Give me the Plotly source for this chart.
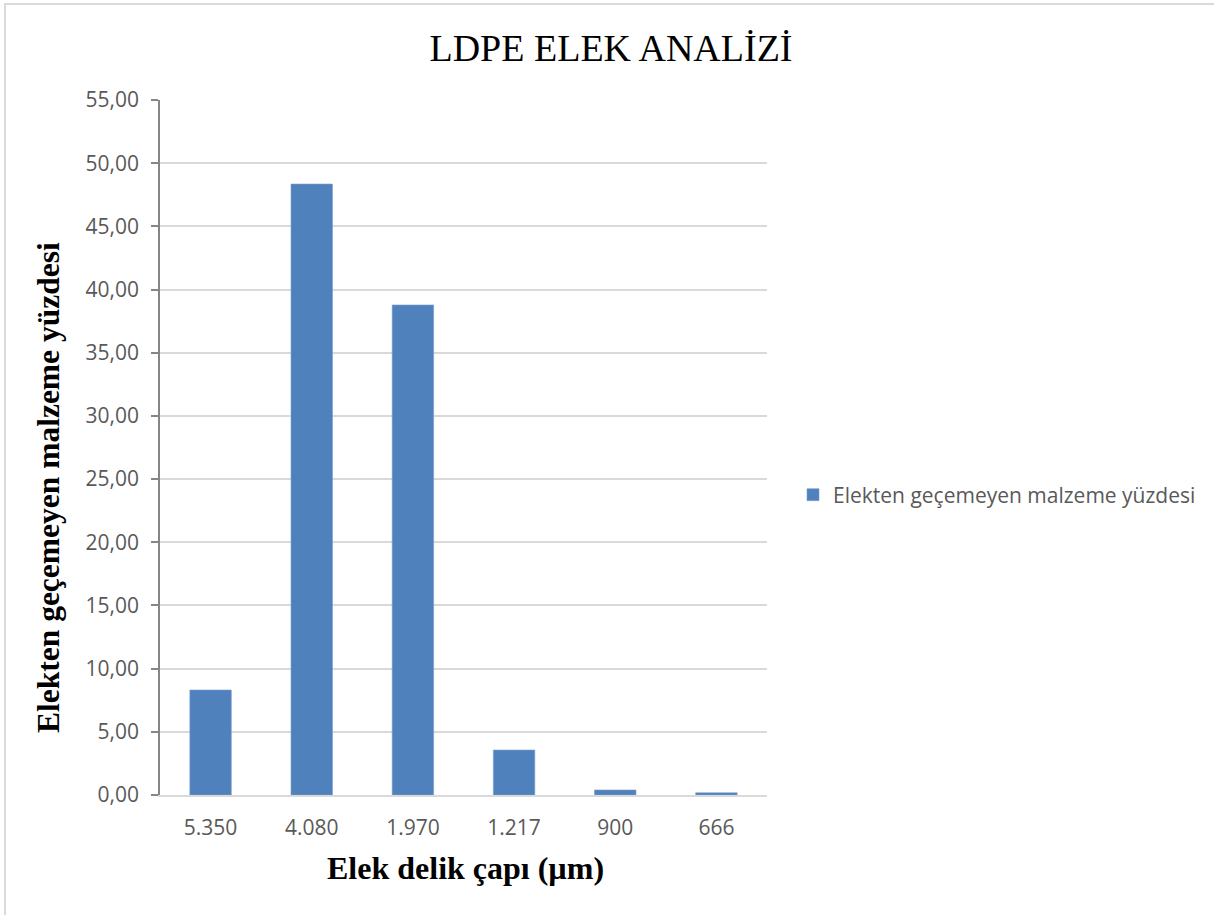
import plotly.graph_objects as go

categories = ["5.350", "4.080", "1.970", "1.217", "900", "666"]
values = [8.31, 48.35, 38.78, 3.56, 0.40, 0.18]
series_name = "Elekten geçemeyen malzeme yüzdesi"
y_ticks = [0, 5, 10, 15, 20, 25, 30, 35, 40, 45, 50, 55]

W, H = 1214, 915
L, R, T, B = 160, 1214 - 767, 100, 915 - 795
pw, ph = W - L - R, H - T - B

def px(x):
    return (x - L) / pw

def py(y):
    return (H - B - y) / ph

fig = go.Figure()
fig.add_trace(go.Bar(
    x=categories, y=values, name=series_name,
    marker=dict(color="#4F81BD", line=dict(color="#7DA0CD", width=0.6)),
    width=0.41,
    showlegend=True,
))

tick_font = dict(family="Open Sans", size=21, color="#595959")

fig.update_layout(
    width=W, height=H,
    margin=dict(l=L, r=R, t=T, b=B),
    paper_bgcolor="white", plot_bgcolor="white",
    separators=",.",
    title=dict(text="LDPE ELEK ANALİZİ", x=611 / W, xanchor="center",
               y=1 - 48 / H, yanchor="middle", xref="container", yref="container",
               font=dict(family="Liberation Serif", size=38, color="#000000")),
    showlegend=True,
    legend=dict(x=px(793), y=py(495), xanchor="left", yanchor="middle",
                font=tick_font, bgcolor="rgba(0,0,0,0)"),
    xaxis=dict(type="category", showgrid=False, showline=True, linecolor="#D9D9D9",
               linewidth=1.5, ticks="", tickfont=tick_font, ticklabelstandoff=13,
               zeroline=False),
    yaxis=dict(range=[0, 55], tickvals=y_ticks, tickformat=".2f", showgrid=True,
               gridcolor="#D9D9D9", gridwidth=1.5, showline=True, linecolor="#868686",
               linewidth=1.5, ticks="outside", ticklen=7, tickcolor="#868686",
               tickwidth=1.5, tickfont=tick_font, ticklabelstandoff=8, zeroline=False),
    annotations=[
        dict(text="<b>Elekten geçemeyen malzeme yüzdesi</b>", xref="paper", yref="paper",
             x=px(48), y=py(488), textangle=-90, showarrow=False,
             xanchor="center", yanchor="middle",
             font=dict(family="Liberation Serif", size=31.5, color="#000000")),
        dict(text="<b>Elek delik çapı (µm)</b>", xref="paper", yref="paper",
             x=px(465), y=py(868), showarrow=False, xanchor="center", yanchor="middle",
             font=dict(family="Liberation Serif", size=32, color="#000000")),
    ],
    shapes=[
        dict(type="rect", xref="paper", yref="paper", x0=px(5), x1=px(1400),
             y0=py(1100), y1=py(4), line=dict(color="#D9D9D9", width=2), layer="below"),
    ],
)

fig.write_html("out.html")
